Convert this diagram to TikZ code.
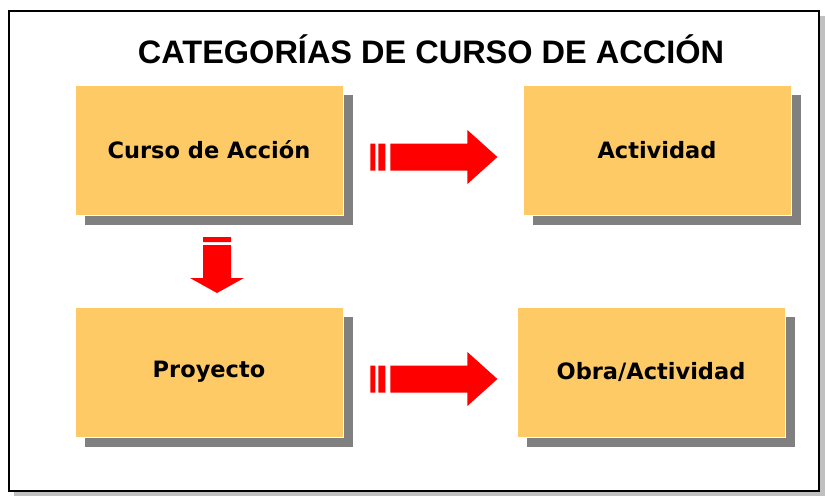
\documentclass[tikz,border=0pt]{standalone}
\usepackage{fontspec}
\setmainfont{Liberation Sans}
\newfontfamily\boxfont{DejaVu Sans}
\usetikzlibrary{shadows}

\definecolor{boxfill}{RGB}{253,202,102}
\definecolor{boxshade}{RGB}{128,128,128}
\definecolor{frameshade}{RGB}{192,192,192}

\begin{document}
\begin{tikzpicture}[
        x=1pt, y=-1pt,
        block/.style={rectangle, draw=white, line width=0.8pt, fill=boxfill,
            minimum width=268pt, minimum height=130pt, inner sep=0pt,
            font=\boxfont\bfseries\fontsize{22.5}{26}\selectfont,
            drop shadow={shadow xshift=10pt, shadow yshift=-10pt, fill=boxshade, opacity=1}},
        fatarrow/.style={fill=red, draw=none}
    ]
        \useasboundingbox (0,0) rectangle (829,499);
        \fill[white] (0,0) rectangle (829,499);

        % Frame
        \fill[frameshade] (14,16) rectangle (825,496);
        \draw[line width=2pt, fill=white] (9,11) rectangle (819,491);

        % Title
        \node[font=\bfseries\fontsize{32.5}{38}\selectfont] (title) at (431,49) {CATEGORÍAS DE CURSO DE ACCIÓN};

        % Blocks
        \node[block] (curso) at (209,150) {Curso de Acción};
        \node[block] (actividad) at (657,150) {Actividad};
        \node[block] (proyecto) at (209,372) {Proyecto};
        \node[block] (obra) at (651,372) {Obra/Actividad};

        % Arrows
        \coordinate (a1) at ([xshift=27pt]curso.east |- 0,157);
        \coordinate (a2) at ([xshift=27pt]proyecto.east |- 0,379);
        \coordinate (a3) at (217,237);
        \foreach \a in {a1,a2}{
            \fill[fatarrow, shift={(\a)}]
                (0,-13.5) rectangle (5,13.5)
                (8,-13.5) rectangle (15,13.5)
                (20,-13.5) -- (97,-13.5) -- (97,-27) -- (127,0)
                -- (97,27) -- (97,13.5) -- (20,13.5) -- cycle;
        }
        \fill[fatarrow, shift={(a3)}]
            (-14,0) rectangle (14,5)
            (-14,8) -- (14,8) -- (14,41) -- (27,41) -- (0,56)
            -- (-27,41) -- (-14,41) -- cycle;

    \end{tikzpicture}
\end{document}
